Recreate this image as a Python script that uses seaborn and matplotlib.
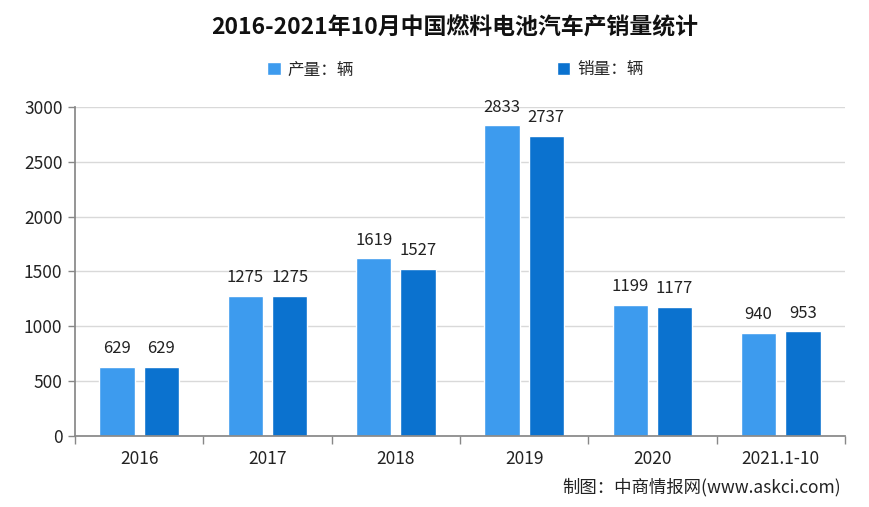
import matplotlib
matplotlib.use("Agg")
import matplotlib.pyplot as plt
import seaborn as sns
import pandas as pd
from matplotlib.patches import Patch

categories = ["2016", "2017", "2018", "2019", "2020", "2021.1-10"]
production = [629, 1275, 1619, 2833, 1199, 940]
sales = [629, 1275, 1527, 2737, 1177, 953]
series_names = ["产量：辆", "销量：辆"]
title = "2016-2021年10月中国燃料电池汽车产销量统计"
source = "制图：中商情报网(www.askci.com)"
yticks = [0, 500, 1000, 1500, 2000, 2500, 3000]

sns.set_theme(style="white")
plt.rcParams['font.family'] = ['Noto Sans CJK SC', 'DejaVu Sans']

df = pd.DataFrame({
    "cat": categories * 2,
    "val": production + sales,
    "series": [series_names[0]] * len(categories) + [series_names[1]] * len(categories),
})

fig = plt.figure(figsize=(8.69, 5.07), dpi=100)
ax = fig.add_axes([0.0863, 0.140, 0.886, 0.649])
palette = ["#3D9BEE", "#0B72CF"]
sns.barplot(data=df, x="cat", y="val", hue="series", palette=palette,
            width=0.69, gap=0.2, ax=ax, legend=False, saturation=1)

ax.set_ylim(0, 3000)
ax.set_xlim(-0.5, len(categories) - 0.5)
ax.set_yticks(yticks)
ax.set_yticklabels([str(t) for t in yticks], fontsize=12.5, color="#222222")
ax.set_xticks(range(len(categories)))
ax.set_xticklabels(categories, fontsize=12.5, color="#222222")
ax.tick_params(axis="x", length=0, pad=10)
ax.tick_params(axis="y", length=5, color="#888888", left=True, width=1, pad=4)
ax.set_xticks([i - 0.5 for i in range(len(categories) + 1)], minor=True)
ax.tick_params(axis="x", which="minor", length=6, color="#888888", bottom=True, width=1)
ax.set_xlabel("")
ax.set_ylabel("")
ax.yaxis.grid(True, color="#D9D9D9", linewidth=1)
ax.set_axisbelow(True)
for s in ["top", "right"]:
    ax.spines[s].set_visible(False)
ax.spines["left"].set_color("#888888")
ax.spines["bottom"].set_color("#888888")

for container in ax.containers:
    ax.bar_label(container, fmt="%d", padding=7, fontsize=12, color="#222222")

handles = [Patch(facecolor=palette[0]), Patch(facecolor=palette[1])]
fig.legend(handles, series_names, loc="center", bbox_to_anchor=(0.524, 0.862), ncol=2,
           frameon=False, fontsize=12, handlelength=0.8, handleheight=0.8,
           columnspacing=12.2, handletextpad=0.4)

fig.text(0.523, 0.945, title, ha="center", va="center", fontsize=16.5, fontweight="bold", color="#111111")
fig.text(0.968, 0.04, source, ha="right", va="center", fontsize=12.5, color="#222222")

fig.savefig("out.png", dpi=100)
